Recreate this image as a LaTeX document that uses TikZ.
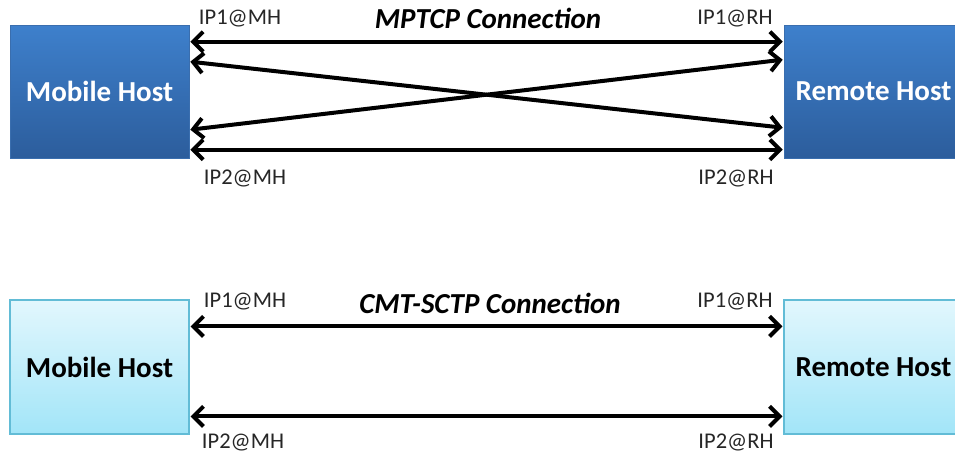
\documentclass[tikz,border=0pt]{standalone}
\usepackage{fontspec}
\setmainfont{Carlito}
\usetikzlibrary{arrows.meta,calc}
\definecolor{darkTop}{HTML}{3E80CC}
\definecolor{darkBot}{HTML}{2C5D9C}
\definecolor{darkEdge}{HTML}{3A6EAE}
\definecolor{lightTop}{HTML}{E2F7FD}
\definecolor{lightBot}{HTML}{A2E5F8}
\definecolor{lightEdge}{HTML}{62BCD6}
\definecolor{lbl}{HTML}{262626}
\tikzset{
  darkbox/.style={rectangle, draw=darkEdge, line width=0.6pt, top color=darkTop, bottom color=darkBot,
    minimum width=179pt, minimum height=133pt, inner sep=0pt,
    font=\fontsize{29}{33}\selectfont\bfseries, text=white},
  lightbox/.style={rectangle, draw=lightEdge, line width=1.2pt, top color=lightTop, bottom color=lightBot,
    minimum width=179pt, minimum height=134pt, inner sep=0pt,
    font=\fontsize{29}{33}\selectfont\bfseries, text=black},
  conn/.style={line width=4pt, {Straight Barb[length=10pt,width=20pt]}-{Straight Barb[length=10pt,width=20pt]}},
  iplbl/.style={font=\fontsize{22.5}{26}\selectfont, text=lbl, inner sep=0pt},
  title/.style={font=\fontsize{29}{33}\selectfont\bfseries\itshape, text=black, inner sep=0pt}
}
\begin{document}
\begin{tikzpicture}[x=1pt,y=-1pt]
\useasboundingbox (0,0) rectangle (955,455);
\clip (0,0) rectangle (955,455);
% top
\node[darkbox] (mh1) at (99.5,91.5) {Mobile Host};
\node[darkbox] (rh1) at (873.5,91.5) {Remote Host};
\draw[conn] ($(mh1.north east)+(1,17)$) -- ($(rh1.north west)+(-1,17)$);
\draw[conn] ($(mh1.north east)+(1,37)$) -- ($(rh1.north west)+(-1,103)$);
\draw[conn] ($(mh1.north east)+(1,105)$) -- ($(rh1.north west)+(-1,35)$);
\draw[conn] ($(mh1.north east)+(1,125)$) -- ($(rh1.north west)+(-1,125)$);
\node[iplbl] (a1) at (240,19) {IP1@MH};
\node[iplbl] (a2) at (245,178) {IP2@MH};
\node[iplbl] (a3) at (735,19) {IP1@RH};
\node[iplbl] (a4) at (736,178) {IP2@RH};
\node[title] (t1) at (488,18) {MPTCP Connection};
% bottom
\node[lightbox] (mh2) at (99.5,367) {Mobile Host};
\node[lightbox] (rh2) at (873.5,367) {Remote Host};
\draw[conn] ($(mh2.north east)+(1,27)$) -- ($(rh2.north west)+(-1,27)$);
\draw[conn] ($(mh2.north east)+(1,117)$) -- ($(rh2.north west)+(-1,117)$);
\node[iplbl] (b1) at (245,302) {IP1@MH};
\node[iplbl] (b2) at (243,442) {IP2@MH};
\node[iplbl] (b3) at (735,302) {IP1@RH};
\node[iplbl] (b4) at (736,442) {IP2@RH};
\node[title] (t2) at (490,303) {CMT-SCTP Connection};
\end{tikzpicture}
\end{document}
